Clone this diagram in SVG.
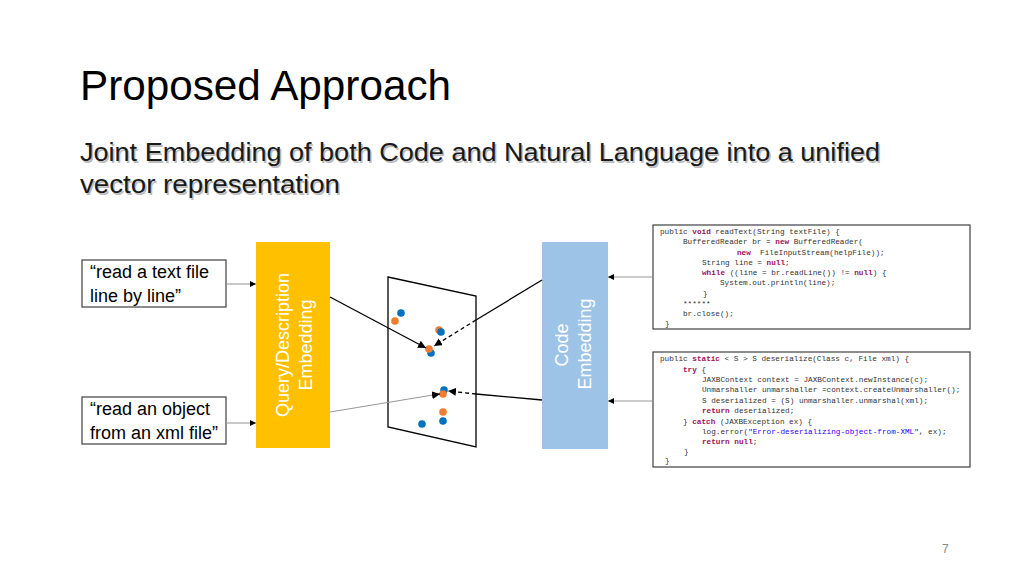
<svg xmlns="http://www.w3.org/2000/svg" width="1024" height="576" viewBox="0 0 1024 576">
<style>
.title{font-family:"Liberation Sans",Arial,sans-serif;font-size:42px;fill:#000}
.sub{font-family:"Liberation Sans",Arial,sans-serif;font-size:26px;fill:#1a1a1a}
.subsh{font-family:"Liberation Sans",Arial,sans-serif;font-size:26px;fill:#bdbdbd}
.lbl{font-family:"Liberation Sans",Arial,sans-serif;font-size:18px;fill:#000}
.vlbl{font-family:"Liberation Sans",Arial,sans-serif;font-size:18px;fill:#fff;text-anchor:middle}
.code{font-family:"Liberation Mono","DejaVu Sans Mono",monospace;font-size:7.7px;fill:#333}
.kw{fill:#a0105a;font-weight:bold}
.str{fill:#2a00ff}
.box{fill:#fff;stroke:#404040;stroke-width:1.2}
.conn{fill:none;stroke:#000;stroke-width:1.3}
.grey{fill:none;stroke:#999;stroke-width:1.1}
.dash{fill:none;stroke:#000;stroke-width:1.3;stroke-dasharray:4 3}
.blue{fill:#0070c0}
.orange{fill:#ed7d31}
</style>
<defs>
<marker id="ah" markerUnits="userSpaceOnUse" markerWidth="9" markerHeight="8" refX="8" refY="4" orient="auto">
<path d="M0,0 L8,4 L0,8 z" fill="#000"/>
</marker>
<marker id="ahs" markerUnits="userSpaceOnUse" markerWidth="7" markerHeight="7" refX="6" refY="3" orient="auto">
<path d="M0,0 L6,3 L0,6 z" fill="#000"/>
</marker>
</defs>
<rect width="1024" height="576" fill="#fff"/>
<g id="title">
<text class="title" x="80" y="100" textLength="371" lengthAdjust="spacingAndGlyphs">Proposed Approach</text>
<text class="subsh" x="81.5" y="162.5" textLength="800" lengthAdjust="spacingAndGlyphs">Joint Embedding of both Code and Natural Language into a unified</text>
<text class="subsh" x="81.5" y="194.5" textLength="260" lengthAdjust="spacingAndGlyphs">vector representation</text>
<text class="sub" x="80" y="161" textLength="800" lengthAdjust="spacingAndGlyphs">Joint Embedding of both Code and Natural Language into a unified</text>
<text class="sub" x="80" y="193" textLength="260" lengthAdjust="spacingAndGlyphs">vector representation</text>
</g>
<g id="query1">
<rect class="box" x="82" y="260" width="144" height="47"/>
<text class="lbl" x="90" y="278">“read a text file</text>
<text class="lbl" x="90" y="302">line by line”</text>
</g>
<g id="query2">
<rect class="box" x="82" y="397" width="144" height="47"/>
<text class="lbl" x="90" y="415">“read an object</text>
<text class="lbl" x="90" y="439">from an xml file”</text>
</g>
<g id="query-embedding">
<rect x="256" y="242" width="74" height="206" fill="#ffc000"/>
<text class="vlbl" transform="translate(289,345) rotate(-90)">Query/Description</text>
<text class="vlbl" transform="translate(312,345) rotate(-90)">Embedding</text>
</g>
<g id="code-embedding">
<rect x="542" y="242" width="66" height="207" fill="#9dc3e6"/>
<text class="vlbl" transform="translate(568,345) rotate(-90)">Code</text>
<text class="vlbl" transform="translate(591,344) rotate(-90)">Embedding</text>
</g>
<g id="plane">
<polygon points="388,277 476,296 476,447 388,427" fill="#fff" stroke="#000" stroke-width="1.3"/>
</g>
<g id="code1">
<rect class="box" x="653" y="225" width="317" height="104"/>
<text class="code" xml:space="preserve"><tspan x="660" y="234">public <tspan class="kw">void</tspan> readText(String textFile) {</tspan><tspan x="683" y="244">BufferedReader br = <tspan class="kw">new</tspan> BufferedReader(</tspan><tspan x="737" y="255"><tspan class="kw">new</tspan>  FileInputStream(helpFile));</tspan><tspan x="702" y="265">String line = <tspan class="kw">null</tspan>;</tspan><tspan x="702" y="275"><tspan class="kw">while</tspan> ((line = br.readLine()) != <tspan class="kw">null</tspan>) {</tspan><tspan x="720" y="285">System.out.println(line);</tspan><tspan x="703" y="296">}</tspan><tspan x="683" y="306">******</tspan><tspan x="683" y="316">br.close();</tspan><tspan x="665" y="326">}</tspan></text>
</g>
<g id="code2">
<rect class="box" x="653" y="352" width="317" height="115"/>
<text class="code" xml:space="preserve"><tspan x="660" y="361">public <tspan class="kw">static</tspan> &lt; S &gt; S deserialize(Class c, File xml) {</tspan><tspan x="683" y="372"><tspan class="kw">try</tspan> {</tspan><tspan x="702" y="382">JAXBContext context = JAXBContext.newInstance(c);</tspan><tspan x="702" y="392">Unmarshaller unmarshaller =context.createUnmarshaller();</tspan><tspan x="702" y="403">S deserialized = (S) unmarshaller.unmarshal(xml);</tspan><tspan x="702" y="413"><tspan class="kw">return</tspan> deserialized;</tspan><tspan x="683" y="424">} <tspan class="kw">catch</tspan> (JAXBException ex) {</tspan><tspan x="702" y="434">log.error(<tspan class="str">"Error-deserializing-object-from-XML"</tspan>, ex);</tspan><tspan x="702" y="444"><tspan class="kw">return null</tspan>;</tspan><tspan x="684" y="454">}</tspan><tspan x="665" y="463">}</tspan></text>
</g>
<g id="points">
<circle class="blue" cx="401" cy="313" r="3.8"/>
<circle class="orange" cx="395" cy="321" r="3.8"/>
<circle class="orange" cx="439" cy="330" r="3.8"/>
<circle class="blue" cx="441" cy="332" r="3.8"/>
<circle class="blue" cx="431" cy="353" r="3.8"/>
<circle class="orange" cx="429" cy="349" r="3.8"/>
<circle class="blue" cx="444" cy="390" r="3.8"/>
<circle class="orange" cx="443" cy="394" r="3.8"/>
<circle class="orange" cx="443" cy="412" r="3.8"/>
<circle class="blue" cx="443" cy="421" r="3.8"/>
<circle class="blue" cx="422" cy="424" r="3.8"/>
</g>
<g id="connectors">
<line class="grey" x1="226" y1="284" x2="256" y2="284" marker-end="url(#ahs)"/>
<line class="grey" x1="226" y1="423" x2="256" y2="423" marker-end="url(#ahs)"/>
<line class="grey" x1="652" y1="277" x2="608" y2="277" marker-end="url(#ahs)"/>
<line class="grey" x1="652" y1="401" x2="608" y2="401" marker-end="url(#ahs)"/>
<line class="conn" x1="330" y1="297" x2="426" y2="348" marker-end="url(#ah)"/>
<line class="conn" x1="542" y1="280" x2="476" y2="320"/>
<line class="dash" x1="476" y1="320" x2="434" y2="346" marker-end="url(#ah)"/>
<line class="grey" x1="330" y1="412" x2="439" y2="394"/>
<line x1="432" y1="395.2" x2="440" y2="394" stroke="#000" stroke-width="1" marker-end="url(#ah)"/>
<line class="conn" x1="542" y1="400" x2="476" y2="394"/>
<line class="dash" x1="476" y1="394" x2="448" y2="391" marker-end="url(#ah)"/>
</g>
<text x="942" y="553" font-family="Liberation Sans,Arial,sans-serif" font-size="12" fill="#888">7</text>
</svg>
